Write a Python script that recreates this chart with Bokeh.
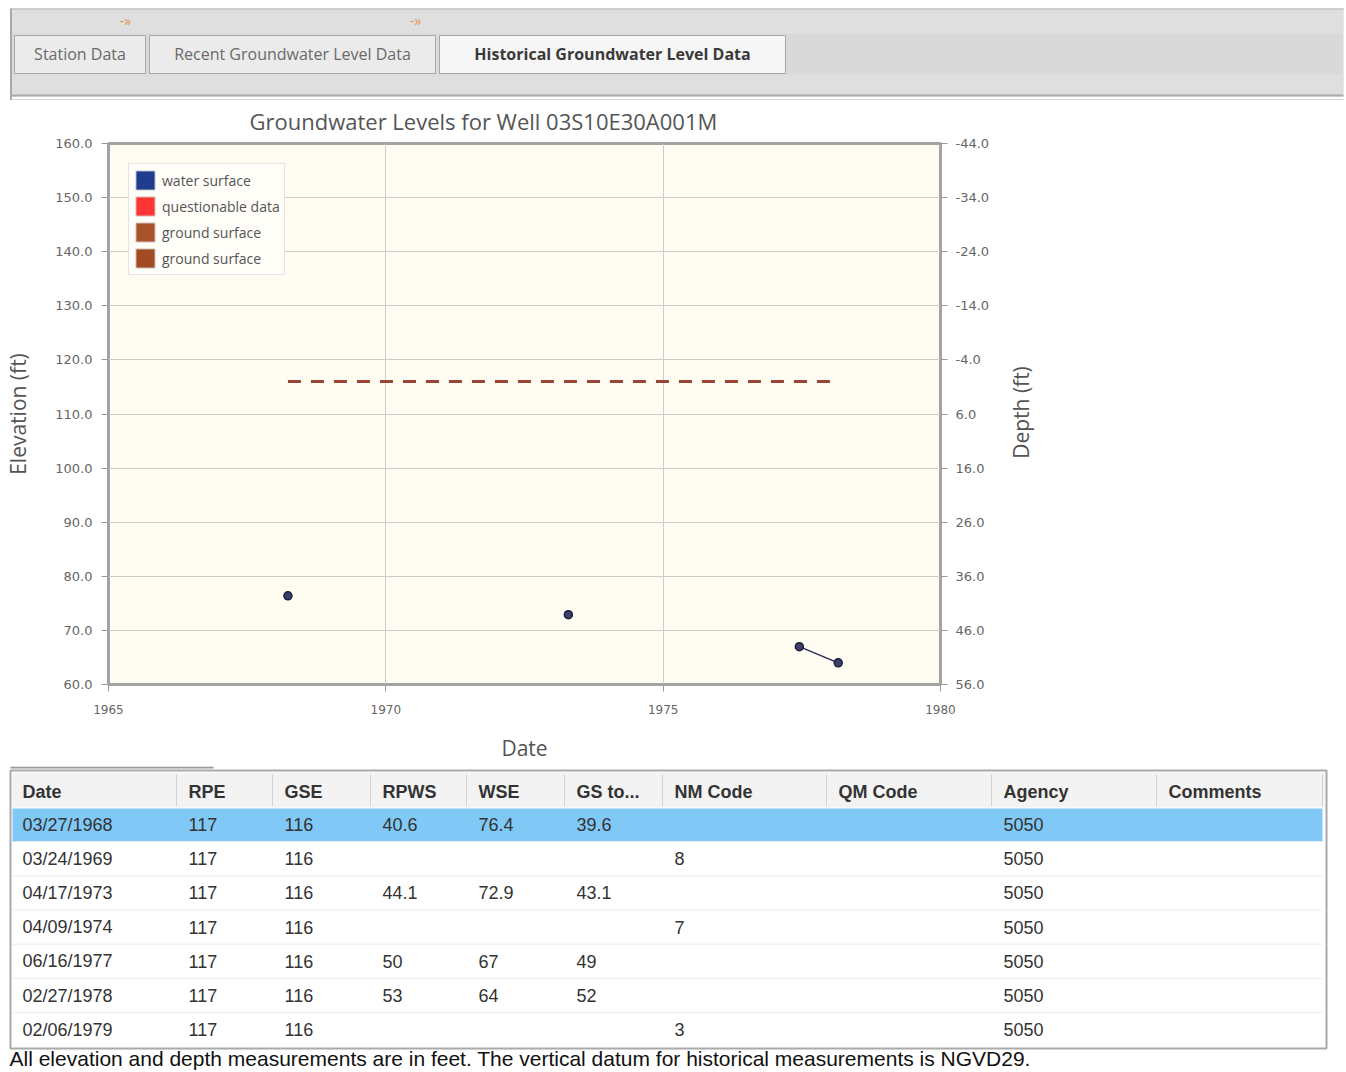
import math
import datetime
from bokeh.plotting import figure
from bokeh.models import (Range1d, LinearAxis, FixedTicker, PrintfTickFormatter,
                          Legend, LegendItem)
from bokeh.layouts import column, row
from bokeh.embed import file_html
from bokeh.resources import INLINE
from bokeh.core.properties import value

# ---------------- data ----------------
dates = ["03/27/1968", "03/24/1969", "04/17/1973", "04/09/1974",
         "06/16/1977", "02/27/1978", "02/06/1979"]
rpe = [117, 117, 117, 117, 117, 117, 117]
gse = [116, 116, 116, 116, 116, 116, 116]
rpws = [40.6, None, 44.1, None, 50, 53, None]
wse = [76.4, None, 72.9, None, 67, 64, None]
gs_to_ws = [39.6, None, 43.1, None, 49, 52, None]
nm_code = ["", "8", "", "7", "", "", "3"]
qm_code = ["", "", "", "", "", "", ""]
agency = ["5050", "5050", "5050", "5050", "5050", "5050", "5050"]
comments = ["", "", "", "", "", "", ""]

table_headers = ["Date", "RPE", "GSE", "RPWS", "WSE", "GS to...", "NM Code",
                 "QM Code", "Agency", "Comments"]
tab_labels = ["Station Data", "Recent Groundwater Level Data",
              "Historical Groundwater Level Data"]
chart_title = "Groundwater Levels for Well 03S10E30A001M"
depth_axis_title = "Depth (ft)"
legend_labels = ["water surface", "questionable data", "ground surface", "ground surface"]
legend_colors = ["#1f3c8e", "#ff3535", "#a9532b", "#a24b22"]
elev_ticks = [60, 70, 80, 90, 100, 110, 120, 130, 140, 150, 160]
year_ticks = [1965, 1970, 1975, 1980]
footer_text = ("All elevation and depth measurements are in feet. "
               "The vertical datum for historical measurements is NGVD29.")


def dec_year(s):
    d = datetime.datetime.strptime(s, "%m/%d/%Y")
    start = datetime.datetime(d.year, 1, 1)
    end = datetime.datetime(d.year + 1, 1, 1)
    return d.year + (d - start).total_seconds() / (end - start).total_seconds()


def fmt(v):
    if v is None:
        return ""
    if isinstance(v, str):
        return v
    return f"{v:g}"


def no_align(f):
    try:
        f.frame_align = False
    except Exception:
        pass


W = 1346
CHART_W = 1005
UI_FONT = "Open Sans"
TABLE_FONT = "Liberation Sans"
NAN = float("nan")


def canvas(w, h, x0, y0, bg, flip=True):
    yr = Range1d(y0 + h, y0) if flip else Range1d(0, h)
    f = figure(width=w, height=h, x_range=Range1d(x0, x0 + w), y_range=yr,
               output_backend="svg", toolbar_location=None, x_axis_type=None,
               y_axis_type=None, min_border=0, outline_line_color=None,
               background_fill_color=bg, border_fill_color=bg)
    no_align(f)
    return f


# ---------------- tab bar ----------------
tabs_fig = canvas(W, 100, 0, 0, "white")
tabs_fig.quad(left=[10], right=[1343], top=[8], bottom=[96], fill_color="#d9d9d9", line_color=None)
tabs_fig.quad(left=[10], right=[1343], top=[9], bottom=[33], fill_color="#dfdfdf", line_color=None)
tabs_fig.quad(left=[10], right=[1343], top=[74], bottom=[94], fill_color="#dfdfdf", line_color=None)
tabs_fig.segment(x0=[10], y0=[8.5], x1=[1343], y1=[8.5], line_color="#b5b5b5", line_width=1)
tabs_fig.segment(x0=[10, 10.5], y0=[95, 8], x1=[1343, 10.5], y1=[95, 100],
                 line_color="#aaaaaa", line_width=2)
tabs_fig.segment(x0=[10], y0=[99.5], x1=[1343], y1=[99.5], line_color="#b0b0b0", line_width=1)
tab_left = [14, 149, 439]
tab_right = [145, 435, 785]
tabs_fig.quad(left=tab_left, right=tab_right, top=[35, 35, 35], bottom=[73, 73, 73],
              fill_color=["#ebebeb", "#ebebeb", "#f6f6f6"], line_color="#a8a8a8", line_width=1)
tabs_fig.text(x=[(l + r) / 2 for l, r in zip(tab_left[:2], tab_right[:2])], y=[53, 53],
              text=tab_labels[:2], text_align="center", text_baseline="middle",
              text_font=value(UI_FONT), text_font_size="16px", text_color="#6a6a6a")
tabs_fig.text(x=[(tab_left[2] + tab_right[2]) / 2], y=[53], text=[tab_labels[2]],
              text_align="center", text_baseline="middle", text_font=value(UI_FONT),
              text_font_size="16px", text_font_style="bold", text_color="#3a3a3a")
tabs_fig.text(x=[125, 415], y=[20, 20], text=["-»", "-»"], text_align="center",
              text_baseline="middle", text_font=value(UI_FONT), text_font_size="14px",
              text_color="#e8954a")

# ---------------- chart ----------------
xs = [dec_year(d) for d in dates]
wse_y = [NAN if v is None else v for v in wse]
pt_x = [x for x, v in zip(xs, wse) if v is not None]
pt_y = [v for v in wse if v is not None]
gs_x = [x for x, v in zip(xs, wse) if v is not None]
gs_y = [g for g, v in zip(gse, wse) if v is not None]

y_lo, y_hi = elev_ticks[0], elev_ticks[-1]
p = figure(width=CHART_W, height=666, x_range=Range1d(year_ticks[0], year_ticks[-1]),
           y_range=Range1d(y_lo, y_hi), output_backend="svg", toolbar_location=None,
           min_border_left=108, min_border_right=CHART_W - 940, min_border_top=43,
           min_border_bottom=82,
           background_fill_color="#fffcf2", border_fill_color="white",
           outline_line_color="#a3a3a3", outline_line_width=3)
no_align(p)

p.title.text = chart_title
p.title.align = "left"
p.title.offset = 141
p.title.vertical_align = "top"
p.title.text_font = UI_FONT
p.title.text_font_size = "22px"
p.title.text_font_style = "normal"
p.title.text_color = "#555555"
p.title.standoff = 11

depth_lo, depth_hi = gse[0] - y_lo, gse[0] - y_hi
p.extra_y_ranges = {"depth": Range1d(start=depth_lo, end=depth_hi)}
right_ax = LinearAxis(y_range_name="depth",
                      ticker=FixedTicker(ticks=[gse[0] - t for t in elev_ticks]),
                      formatter=PrintfTickFormatter(format="%.1f"))
p.add_layout(right_ax, "right")

p.xaxis.ticker = FixedTicker(ticks=year_ticks)
p.yaxis[0].ticker = FixedTicker(ticks=elev_ticks)
p.yaxis[0].formatter = PrintfTickFormatter(format="%.1f")
p.yaxis[0].axis_label = "Elevation (ft)"
p.xaxis.axis_label = "Date"

for ax in [p.xaxis[0], p.yaxis[0], right_ax]:
    ax.axis_line_color = None
    ax.major_tick_in = 0
    ax.major_tick_out = 7
    ax.major_tick_line_color = "#999999"
    ax.minor_tick_line_color = None
    ax.major_label_text_font = "DejaVu Sans"
    ax.major_label_text_color = "#666666"
    ax.axis_label_text_font = UI_FONT
    ax.axis_label_text_font_style = "normal"
    ax.axis_label_text_color = "#555555"
    ax.axis_label_text_font_size = "21px"

p.xaxis.major_label_text_font_size = "12px"
p.xaxis.major_label_standoff = 13
p.xaxis.axis_label_standoff = 17
p.yaxis[0].major_label_text_font_size = "13px"
p.yaxis[0].major_label_standoff = 9
p.yaxis[0].axis_label_standoff = 20
right_ax.major_label_text_font_size = "13px"
right_ax.major_label_standoff = 8

p.xgrid.grid_line_color = "#cccccc"
p.ygrid.grid_line_color = "#cccccc"

p.line(gs_x, gs_y, line_color="#9a4436", line_width=3, line_dash="13 10")
p.line(xs, wse_y, line_color="#2b2d55", line_width=1.5)
p.scatter(pt_x, pt_y, size=8, marker="circle", fill_color="#3b3f6b",
          line_color="#1b1d3a", line_width=1.5)

items = []
for lab, col in zip(legend_labels, legend_colors):
    r = p.quad(left=[NAN], right=[NAN], top=[NAN], bottom=[NAN], fill_color=col,
               line_color="#d8d8d8")
    items.append(LegendItem(label=lab, renderers=[r]))
leg = Legend(items=items, location="top_left", margin=20, glyph_width=24, glyph_height=24,
             spacing=2, padding=4, label_standoff=5, label_text_font=UI_FONT,
             label_text_font_size="14px", label_text_color="#555555",
             border_line_color="#cccccc", background_fill_color="#fffdf8",
             background_fill_alpha=1.0)
p.add_layout(leg)

# right-hand strip carrying the depth-axis title, reading bottom to top
depth_fig = canvas(W - CHART_W, 666, CHART_W, 100, "white", flip=False)
depth_fig.text(x=[1020], y=[766 - 412], text=[depth_axis_title], angle=math.pi / 2,
               text_align="center", text_baseline="middle", text_font=value(UI_FONT),
               text_font_size="21px", text_color="#555555")

# ---------------- table ----------------
tbl = canvas(W, 306, 0, 766, "white")
tbl.segment(x0=[10], y0=[767], x1=[213], y1=[767], line_color="#999999", line_width=2)
tbl.quad(left=[10], right=[1326], top=[770], bottom=[1048], fill_color="white",
         line_color="#a9a9a9", line_width=2)
tbl.quad(left=[12], right=[1324], top=[772], bottom=[807], fill_color="#f3f3f3", line_color=None)
col_left = [10, 176, 272, 370, 466, 564, 662, 826, 991, 1156]
tbl.segment(x0=col_left[1:] + [1322], y0=[774] * 10, x1=col_left[1:] + [1322], y1=[806] * 10,
            line_color="#d2d2d2", line_width=1)
row_h = 34.2
row_y = [824 + i * row_h for i in range(len(dates))]
tbl.quad(left=[12], right=[1322], top=[808], bottom=[841], fill_color="#80c8f5", line_color=None)
sep_y = [row_y[i] + row_h / 2 for i in range(len(dates) - 1)]
tbl.segment(x0=[12] * len(sep_y), y0=sep_y, x1=[1322] * len(sep_y), y1=sep_y,
            line_color="#ececec", line_width=1)
tbl.text(x=[c + 12 for c in col_left], y=[791] * len(col_left), text=table_headers,
         text_align="left", text_baseline="middle", text_font=value(TABLE_FONT),
         text_font_size="18px", text_font_style="bold", text_color="#333333")

cell_x, cell_y, cell_t = [], [], []
cols = [dates, rpe, gse, rpws, wse, gs_to_ws, nm_code, qm_code, agency, comments]
for ci, colvals in enumerate(cols):
    for ri, v in enumerate(colvals):
        s = fmt(v)
        if s:
            cell_x.append(col_left[ci] + 12)
            cell_y.append(row_y[ri])
            cell_t.append(s)
tbl.text(x=cell_x, y=cell_y, text=cell_t, text_align="left", text_baseline="middle",
         text_font=value(TABLE_FONT), text_font_size="18px", text_color="#333333")
tbl.text(x=[9], y=[1058], text=[footer_text], text_align="left", text_baseline="middle",
         text_font=value(TABLE_FONT), text_font_size="21px", text_color="#111111")

layout = column(tabs_fig, row(p, depth_fig), tbl)
open("out.html", "w").write(file_html(layout, INLINE))
